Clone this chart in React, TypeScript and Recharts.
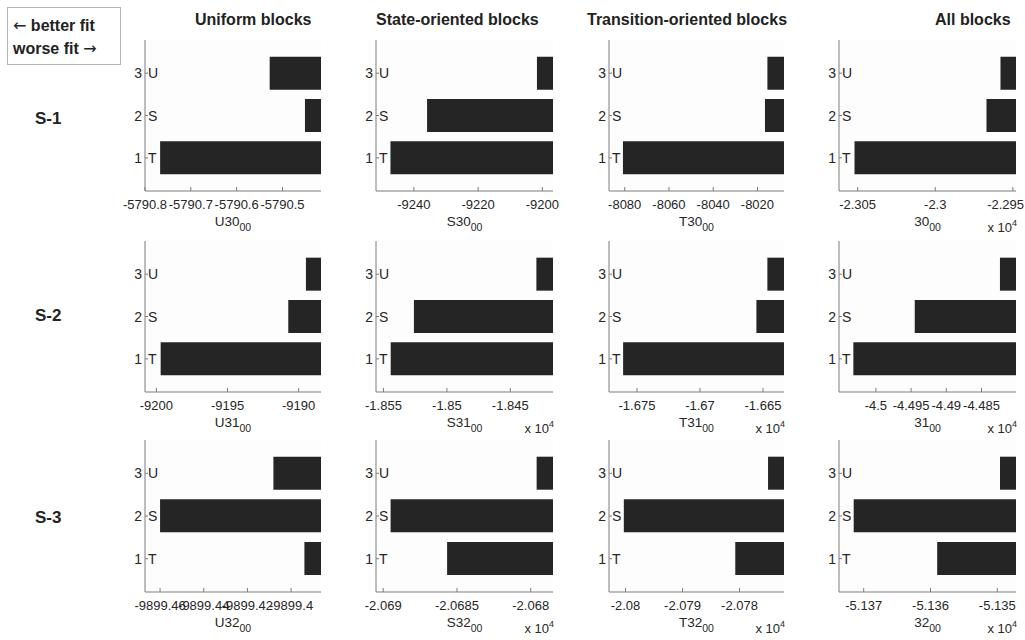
import React from 'react';
import { BarChart, Bar, XAxis, YAxis, CartesianGrid } from 'recharts';

// Model codes drawn inside each panel, one per category 1..3
const categories = [1, 2, 3];
const modelCodes = ['T', 'S', 'U'];

const columnTitles = ['Uniform blocks', 'State-oriented blocks', 'Transition-oriented blocks', 'All blocks'];
const rowTitles = ['S-1', 'S-2', 'S-3'];

// Log-likelihood per panel, ordered [T, S, U]
const s1Uniform = [-5790.767, -5790.451, -5790.528];
const s1State = [-9247.3, -9235.9, -9201.7];
const s1Transition = [-8080.8, -8016.6, -8015.5];
const s1All = [-23052, -22967, -22958];

const s2Uniform = [-9199.7, -9190.73, -9189.49];
const s2State = [-18544.3, -18526, -18429.4];
const s2Transition = [-16761, -16655.2, -16646.5];
const s2All = [-45032, -44944.8, -44823.8];

const s3Uniform = [-9899.3939, -9899.46, -9899.4081];
const s3State = [-20685.67, -20689.5, -20679.6];
const s3Transition = [-20780.75, -20800.3, -20775];
const s3All = [-51359, -51371.5, -51349.6];

// Axis ranges and tick values
const s1UniformDomain = [-5790.8, -5790.416];
const s1UniformTicks = [-5790.8, -5790.7, -5790.6, -5790.5];
const s1StateDomain = [-9251.8, -9196.7];
const s1StateTicks = [-9240, -9220, -9200];
const s1TransitionDomain = [-8087.1, -8008.0];
const s1TransitionTicks = [-8080, -8060, -8040, -8020];
const s1AllDomain = [-23062, -22948];
const s1AllTicks = [-23050, -23000, -22950];

const s2UniformDomain = [-9200.8, -9188.43];
const s2UniformTicks = [-9200, -9195, -9190];
const s2StateDomain = [-18555.9, -18416.3];
const s2StateTicks = [-18550, -18500, -18450];
const s2TransitionDomain = [-16772.2, -16633.3];
const s2TransitionTicks = [-16750, -16700, -16650];
const s2AllDomain = [-45052.4, -44801];
const s2AllTicks = [-45000, -44950, -44900, -44850];

const s3UniformDomain = [-9899.4669, -9899.3863];
const s3UniformTicks = [-9899.46, -9899.44, -9899.42, -9899.4];
const s3StateDomain = [-20690.49, -20678.49];
const s3StateTicks = [-20690, -20685, -20680];
const s3TransitionDomain = [-20802.9, -20772.2];
const s3TransitionTicks = [-20800, -20790, -20780];
const s3AllDomain = [-51373.7, -51347.2];
const s3AllTicks = [-51370, -51360, -51350];

// Axis captions (main part, subscript "00")
const axisNames = [
  ['U30', 'S30', 'T30', '30'],
  ['U31', 'S31', 'T31', '31'],
  ['U32', 'S32', 'T32', '32'],
];
// Whether a panel's tick labels are scaled by 10^4
const scaledPanels = [
  [false, false, false, true],
  [false, true, true, true],
  [false, true, true, true],
];

const panelValues = [
  [s1Uniform, s1State, s1Transition, s1All],
  [s2Uniform, s2State, s2Transition, s2All],
  [s3Uniform, s3State, s3Transition, s3All],
];
const panelDomains = [
  [s1UniformDomain, s1StateDomain, s1TransitionDomain, s1AllDomain],
  [s2UniformDomain, s2StateDomain, s2TransitionDomain, s2AllDomain],
  [s3UniformDomain, s3StateDomain, s3TransitionDomain, s3AllDomain],
];
const panelTicks = [
  [s1UniformTicks, s1StateTicks, s1TransitionTicks, s1AllTicks],
  [s2UniformTicks, s2StateTicks, s2TransitionTicks, s2AllTicks],
  [s3UniformTicks, s3StateTicks, s3TransitionTicks, s3AllTicks],
];

// Grid geometry (plot-area edges in page pixels)
const PAGE_W = 1025;
const PAGE_H = 640;
const colLeft = [145, 376, 609, 839];
const colRight = [321, 553, 784, 1016];
const rowTop = [40, 241, 440];
const rowBottom = [191, 392, 592];

const ML = 40;
const MR = 14;
const MT = 4;
const MB = 48;

const FONT = '"Liberation Sans", Arial, Helvetica, sans-serif';
const ARROW_FONT = '"DejaVu Sans", sans-serif';
const AXIS = '#7d7d7d';
const TEXT = '#262626';
const BAR = '#252525';
const TICK_SIZE = 13;

function formatTick(v: number, scaled: boolean): string {
  const n = scaled ? v / 1e4 : v;
  return String(parseFloat(n.toPrecision(scaled ? 6 : 9)));
}

// rough Liberation Sans advance widths (em) for tick strings
function textWidth(s: string, size: number): number {
  let em = 0;
  for (const ch of s) em += ch === '-' ? 0.333 : ch === '.' ? 0.278 : 0.556;
  return em * size;
}

type PanelProps = { row: number; col: number };

function Panel({ row, col }: PanelProps) {
  const values = panelValues[row][col];
  const scaled = scaledPanels[row][col];
  const w = colRight[col] - colLeft[col];
  const h = rowBottom[row] - rowTop[row];
  const data = [2, 1, 0].map((i) => ({ cat: categories[i], code: modelCodes[i], value: values[i] }));
  const axisY = MT + h;
  const chartLeft = colLeft[col] - ML;

  const xTick = (props: any) => {
    const { x, payload } = props;
    const label = formatTick(payload.value, scaled);
    // keep a label that would run past the page edge inside it
    const half = textWidth(label, TICK_SIZE) / 2;
    const overflow = chartLeft + x + half - (PAGE_W - 1);
    const tx = overflow > 0 ? x - overflow : x;
    return (
      <g>
        <line x1={x} x2={x} y1={axisY} y2={axisY - 4} stroke={AXIS} strokeWidth={1} />
        <text x={tx} y={axisY + 18} textAnchor="middle" fontFamily={FONT} fontSize={TICK_SIZE} fill={TEXT}>
          {label}
        </text>
      </g>
    );
  };

  const yTick = (props: any) => {
    const { y, payload } = props;
    const idx = categories.indexOf(payload.value);
    return (
      <g>
        <line x1={ML} x2={ML + 3} y1={y} y2={y} stroke={AXIS} strokeWidth={1} />
        <text x={ML - 3} y={y + 5} textAnchor="end" fontFamily={FONT} fontSize={14} fill={TEXT}>
          {payload.value}
        </text>
        <text x={ML + 3} y={y + 5} textAnchor="start" fontFamily={FONT} fontSize={14} fill={TEXT}>
          {modelCodes[idx]}
        </text>
      </g>
    );
  };

  const caption = () => (
    <g>
      <text x={ML + w / 2} y={axisY + 35} textAnchor="middle" fontFamily={FONT} fontSize={13.5} fill={TEXT}>
        {axisNames[row][col]}
        <tspan dy={5} fontSize={10.5}>00</tspan>
      </text>
      {scaled && (
        <text x={ML + w + 1} y={axisY + 41} textAnchor="end" fontFamily={FONT} fontSize={13} fill={TEXT}>
          x 10
          <tspan dy={-6} fontSize={9}>4</tspan>
        </text>
      )}
    </g>
  );

  return (
    <div style={{ position: 'absolute', left: chartLeft, top: rowTop[row] - MT }}>
      <BarChart
        width={w + ML + MR}
        height={h + MT + MB}
        data={data}
        layout="vertical"
        margin={{ top: MT, right: MR, bottom: 0, left: 0 }}
        barCategoryGap="11%"
      >
        <CartesianGrid horizontal={false} vertical={false} fill="#fdfdfd" stroke="none" />
        <XAxis
          type="number"
          dataKey="value"
          domain={panelDomains[row][col] as [number, number]}
          allowDataOverflow
          ticks={panelTicks[row][col]}
          interval={0}
          height={MB}
          tickSize={0}
          tickMargin={0}
          tickLine={false}
          axisLine={{ stroke: AXIS, strokeWidth: 1 }}
          tick={xTick}
          label={caption}
        />
        <YAxis
          type="category"
          dataKey="cat"
          width={ML}
          padding={{ top: 12, bottom: 12 }}
          interval={0}
          tickSize={0}
          tickMargin={0}
          tickLine={false}
          axisLine={{ stroke: AXIS, strokeWidth: 1 }}
          tick={yTick}
        />
        <Bar dataKey="value" fill={BAR} isAnimationActive={false} />
      </BarChart>
    </div>
  );
}

const titleX = [195, 376, 587, 935];
const rowTitleY = [124, 321, 523];

export default function App() {
  return (
    <div
      style={{
        position: 'absolute',
        left: 0,
        top: 0,
        width: PAGE_W,
        height: PAGE_H,
        overflow: 'hidden',
        background: '#ffffff',
      }}
    >
      <svg width={PAGE_W} height={PAGE_H} style={{ position: 'absolute', left: 0, top: 0 }}>
        <rect x={7.5} y={7.5} width={113} height={57} fill="#ffffff" stroke="#b5b5b5" strokeWidth={1} />
        <text x={13} y={31} fontFamily={FONT} fontWeight="bold" fontSize={16} fill="#222">
          <tspan fontFamily={ARROW_FONT} fontWeight="normal">←</tspan> better fit
        </text>
        <text x={13} y={54} fontFamily={FONT} fontWeight="bold" fontSize={16} fill="#222">
          worse fit <tspan fontFamily={ARROW_FONT} fontWeight="normal">→</tspan>
        </text>
        {columnTitles.map((t, i) => (
          <text key={t} x={titleX[i]} y={25} fontFamily={FONT} fontWeight="bold" fontSize={16} fill="#222">
            {t}
          </text>
        ))}
        {rowTitles.map((t, i) => (
          <text key={t} x={35} y={rowTitleY[i]} fontFamily={FONT} fontWeight="bold" fontSize={17} fill="#222">
            {t}
          </text>
        ))}
      </svg>
      {rowTitles.map((_, r) =>
        columnTitles.map((__, c) => <Panel key={`${r}-${c}`} row={r} col={c} />)
      )}
    </div>
  );
}
